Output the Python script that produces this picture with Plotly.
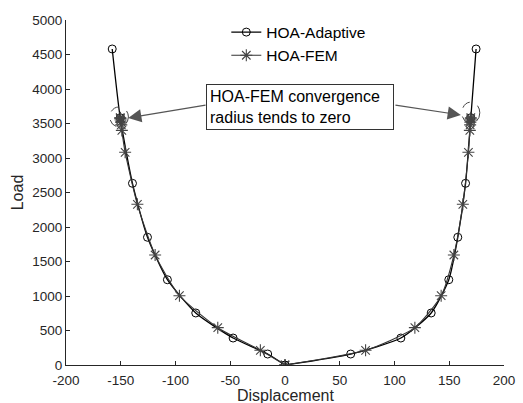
import plotly.graph_objects as go

# HOA-Adaptive (circles), left and right loading branches
adapt_left_x = [-157.8, -150.5, -139.3, -125.6, -107.4, -81.5, -47.4, -15.8, 0]
adapt_left_y = [4580, 3584, 2633, 1851, 1236, 754, 391, 159, 0]
adapt_right_x = [0, 60.0, 105.8, 133.5, 149.6, 157.8, 164.9, 169.7, 174.5]
adapt_right_y = [0, 159, 391, 754, 1236, 1851, 2633, 3584, 4580]

# HOA-FEM (asterisks), converging near 3584
fem_left_x = [-150.5, -150.4, -150.3, -150.1, -149.8, -149.5, -149.0, -146.0, -134.8, -118.6, -96.4, -61.4, -22.5, 0]
fem_left_y = [3584, 3578, 3568, 3550, 3520, 3480, 3400, 3083, 2329, 1594, 1004, 541, 213, 0]
fem_right_x = [0, 73.6, 118.6, 142.6, 154.2, 162.4, 167.5, 168.8, 169.1, 169.3, 169.5, 169.6, 169.7]
fem_right_y = [0, 213, 541, 1004, 1594, 2329, 3083, 3400, 3480, 3520, 3550, 3568, 3584]

x_ticks = [-200, -150, -100, -50, 0, 50, 100, 150, 200]
y_ticks = [0, 500, 1000, 1500, 2000, 2500, 3000, 3500, 4000, 4500, 5000]

FONT = "Liberation Sans, Arial, sans-serif"
AX = "#262626"

fig = go.Figure()

circ = dict(symbol="circle-open", size=8, color="black", line=dict(width=1, color="black"))
star = dict(symbol="asterisk-open", size=10, color="#444444", line=dict(width=1.1, color="#444444"))

fig.add_trace(go.Scatter(x=adapt_left_x, y=adapt_left_y, mode="lines+markers",
                         name="HOA-Adaptive", legendgroup="a", showlegend=True,
                         line=dict(color="black", width=1.3, shape="spline", smoothing=0.6),
                         marker=circ))
fig.add_trace(go.Scatter(x=adapt_right_x, y=adapt_right_y, mode="lines+markers",
                         name="HOA-Adaptive", legendgroup="a", showlegend=False,
                         line=dict(color="black", width=1.3, shape="spline", smoothing=0.6),
                         marker=circ))
fig.add_trace(go.Scatter(x=fem_left_x, y=fem_left_y, mode="lines+markers",
                         name="HOA-FEM", legendgroup="f", showlegend=True,
                         line=dict(color="#333333", width=1.1, shape="spline", smoothing=0.6),
                         marker=star))
fig.add_trace(go.Scatter(x=fem_right_x, y=fem_right_y, mode="lines+markers",
                         name="HOA-FEM", legendgroup="f", showlegend=False,
                         line=dict(color="#333333", width=1.1, shape="spline", smoothing=0.6),
                         marker=star))

# dashed circles around convergence clusters
fig.add_shape(type="circle", xref="x", yref="y", x0=-160, x1=-143, y0=3450, y1=3740,
              line=dict(color="#444444", width=1, dash="dash"))
fig.add_shape(type="circle", xref="x", yref="y", x0=161.5, x1=177.9, y0=3500, y1=3810,
              line=dict(color="#444444", width=1, dash="dash"))

# text box
fig.add_annotation(x=14.1, y=3732, xref="x", yref="y", showarrow=False,
                   text="HOA-FEM convergence<br>radius tends to zero", align="left",
                   font=dict(family=FONT, size=16, color="black"),
                   bordercolor="#333333", borderwidth=1, borderpad=3, bgcolor="white",
                   width=180)
# arrows
fig.add_annotation(x=-143.2, y=3580, ax=-71.2, ay=3770, xref="x", yref="y", axref="x", ayref="y",
                   text="", showarrow=True, arrowhead=2, arrowsize=2.2, arrowwidth=1.2,
                   arrowcolor="#555555")
fig.add_annotation(x=160.6, y=3623, ax=99.5, ay=3770, xref="x", yref="y", axref="x", ayref="y",
                   text="", showarrow=True, arrowhead=2, arrowsize=2.2, arrowwidth=1.2,
                   arrowcolor="#555555")

# x-axis title placed as annotation below tick labels
fig.add_annotation(x=0.5, y=-0.088, xref="paper", yref="paper", showarrow=False,
                   text="Displacement", xanchor="center", yanchor="middle",
                   font=dict(family=FONT, size=16, color=AX))

fig.update_layout(
    width=523, height=403,
    margin=dict(l=66, r=19, t=20, b=38),
    paper_bgcolor="white", plot_bgcolor="white",
    font=dict(family=FONT, color=AX),
    legend=dict(x=0.366, y=1.013, xanchor="left", yanchor="top", bgcolor="rgba(0,0,0,0)",
                font=dict(family=FONT, size=15.5, color="black"), tracegroupgap=0,
                itemwidth=30),
)
fig.update_xaxes(range=[-200, 200], tickvals=x_ticks, ticktext=[str(v) for v in x_ticks],
                 automargin=False, ticklabelstandoff=3,
                 showgrid=False, zeroline=False, showline=True, linecolor=AX, linewidth=1,
                 ticks="inside", ticklen=4, tickcolor=AX, tickfont=dict(size=13.5, color=AX))
fig.update_yaxes(range=[0, 5000], tickvals=y_ticks, ticktext=[str(v) for v in y_ticks],
                 automargin=False,
                 showgrid=False, zeroline=False, showline=True, linecolor=AX, linewidth=1,
                 ticks="inside", ticklen=4, tickcolor=AX, tickfont=dict(size=13.5, color=AX),
                 title=dict(text="Load", font=dict(size=16, color=AX), standoff=4))

fig.write_html("out.html")
